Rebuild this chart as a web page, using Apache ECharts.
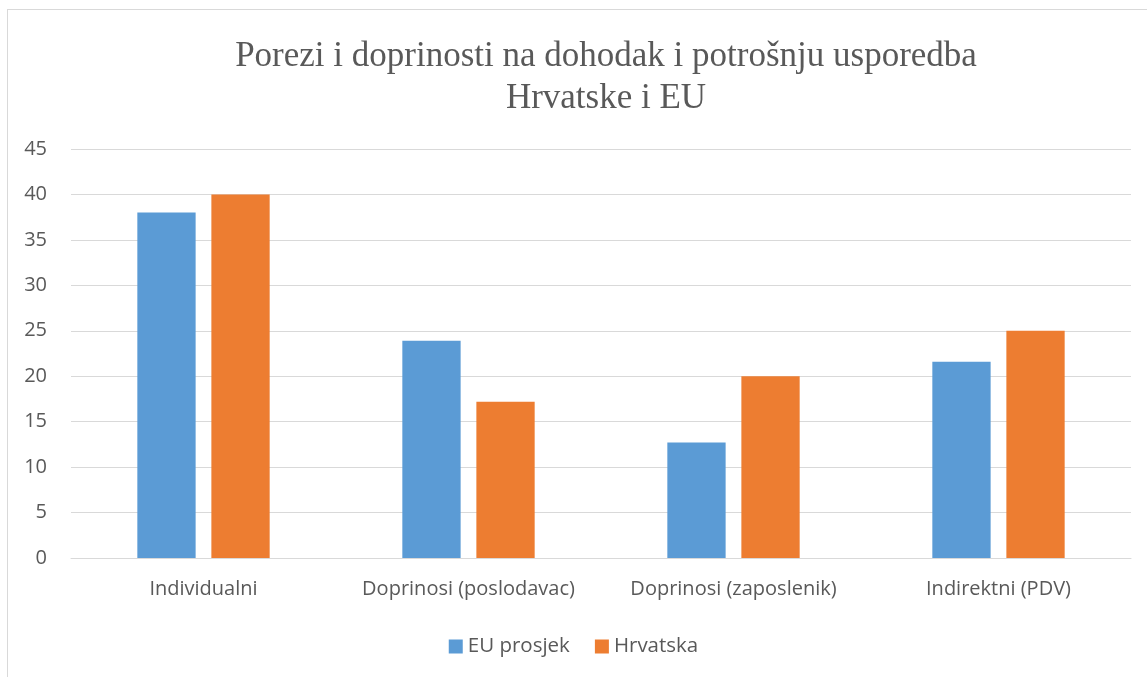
<!DOCTYPE html>
<html>
<head>
<meta charset="utf-8">
<script src="https://cdn.jsdelivr.net/npm/echarts@6/dist/echarts.min.js"></script>
<style>
  html, body { margin: 0; padding: 0; background: #fff; overflow: hidden; }
  #frame { position: absolute; left: 7px; top: 9px; width: 1200px; height: 700px;
           border-top: 1px solid #d9d9d9; border-left: 1px solid #d9d9d9; }
  #chart { position: absolute; left: 0; top: 0; width: 1147px; height: 677px; }
</style>
</head>
<body>
<div id="frame"></div>
<div id="chart"></div>
<script>
const categories = ["Individualni", "Doprinosi (poslodavac)", "Doprinosi (zaposlenik)", "Indirektni (PDV)"];
const seriesNames = ["EU prosjek", "Hrvatska"];
const euValues = [38, 23.9, 12.7, 21.6];
const hrValues = [40, 17.2, 20, 25];
const colors = ["#5b9bd5", "#ed7d31"];

const chart = echarts.init(document.getElementById('chart'));

chart.setOption({
  backgroundColor: "transparent",
  animation: false,
  color: colors,
  title: {
    text: "Porezi i doprinosti na dohodak i potrošnju usporedba\nHrvatske i EU",
    left: 601,
    top: 31,
    textAlign: "center",
    textStyle: {
      fontFamily: "Liberation Serif",
      fontWeight: "normal",
      fontSize: 35,
      lineHeight: 42,
      color: "#595959"
    }
  },
  legend: {
    data: seriesNames,
    top: 631,
    left: "center",
    icon: "rect",
    itemWidth: 14,
    itemHeight: 14,
    itemGap: 25,
    textStyle: { fontFamily: "Open Sans", fontSize: 20.5, color: "#595959" }
  },
  grid: {
    left: 71,
    right: 16,
    top: 149,
    bottom: 119
  },
  xAxis: {
    type: "category",
    data: categories,
    axisLine: { lineStyle: { color: "#d9d9d9", width: 1 } },
    axisTick: { show: false },
    axisLabel: { interval: 0, fontFamily: "Open Sans", fontSize: 20, color: "#595959", margin: 21 }
  },
  yAxis: {
    type: "value",
    min: 0,
    max: 45,
    interval: 5,
    axisLine: { show: false },
    axisTick: { show: false },
    splitLine: { lineStyle: { color: "#d9d9d9", width: 1 } },
    axisLabel: { fontFamily: "Open Sans", fontSize: 20, color: "#595959", margin: 24 }
  },
  series: [{
    name: seriesNames[0],
    type: "bar",
    data: euValues,
    barWidth: "22%",
    barGap: "27%"
  }, {
    name: seriesNames[1],
    type: "bar",
    data: hrValues,
    barWidth: "22%",
    barGap: "27%"
  }]
});
</script>
</body>
</html>
